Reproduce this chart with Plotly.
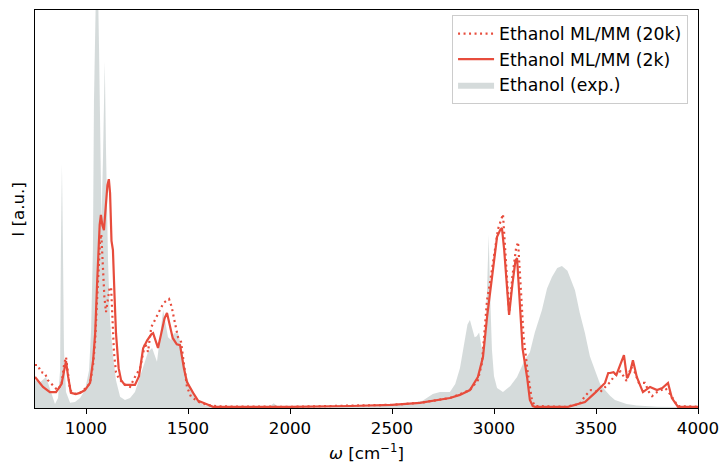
import plotly.graph_objects as go

# ---- data ----
exp_x = [750, 775, 804, 824, 848, 863, 873, 877, 882, 887, 892, 902, 922, 946, 971, 995,
         1015, 1025, 1034, 1039, 1044, 1054, 1064, 1069, 1076, 1083, 1092, 1098, 1108, 1118,
         1132, 1147, 1167, 1191, 1216, 1240, 1265, 1289, 1304, 1324, 1338, 1348, 1358, 1368,
         1378, 1387, 1402, 1417, 1431, 1451, 1466, 1480, 1495, 1520, 1544, 1574, 1608, 1700,
         1850, 1900, 1920, 1940, 2000, 2200, 2400, 2550, 2650, 2700, 2735, 2784, 2810, 2833,
         2858, 2870, 2882, 2895, 2905, 2915, 2927, 2940, 2950, 2960, 2968, 2974, 2980, 2990,
         3000, 3015, 3044, 3080, 3113, 3150, 3176, 3200, 3235, 3260, 3284, 3310, 3333, 3360,
         3397, 3420, 3446, 3470, 3495, 3520, 3544, 3570, 3593, 3650, 3700, 3800, 4000]
exp_y = [0.070, 0.065, 0.078, 0.045, 0.010, 0.025, 0.095, 0.40, 0.613, 0.40, 0.146, 0.040,
         0.013, 0.015, 0.025, 0.045, 0.095, 0.196, 0.40, 0.77, 1.05, 1.2, 0.90, 0.65, 0.47,
         0.62, 0.87, 0.65, 0.37, 0.22, 0.133, 0.070, 0.028, 0.020, 0.025, 0.040, 0.078, 0.116,
         0.141, 0.151, 0.133, 0.116, 0.158, 0.209, 0.246, 0.221, 0.178, 0.171, 0.188, 0.188,
         0.158, 0.116, 0.078, 0.038, 0.020, 0.008, 0.003, 0.002, 0.002, 0.004, 0.012, 0.004,
         0.002, 0.002, 0.004, 0.008, 0.018, 0.035, 0.040, 0.040, 0.060, 0.100, 0.171, 0.210,
         0.221, 0.200, 0.178, 0.180, 0.190, 0.150, 0.146, 0.200, 0.350, 0.435, 0.300, 0.146,
         0.080, 0.050, 0.040, 0.055, 0.078, 0.120, 0.140, 0.190, 0.246, 0.300, 0.329, 0.352,
         0.357, 0.345, 0.296, 0.240, 0.188, 0.130, 0.095, 0.060, 0.045, 0.030, 0.020, 0.010,
         0.006, 0.003, 0.002]

ml2k_x = [750, 789, 823, 853, 880, 895, 902, 912, 926, 950, 970, 995, 1020, 1035, 1045, 1055,
          1060, 1067, 1073, 1080, 1088, 1097, 1105, 1112, 1118, 1125, 1132, 1140, 1147, 1160,
          1172, 1190, 1216, 1240, 1260, 1280, 1300, 1320, 1329, 1340, 1353, 1370, 1385, 1397,
          1410, 1425, 1445, 1461, 1480, 1495, 1525, 1550, 1574, 1623, 1700, 2000, 2300, 2500,
          2637, 2700, 2784, 2833, 2882, 2921, 2946, 2966, 2990, 3015, 3030, 3039, 3050, 3060,
          3074, 3090, 3105, 3113, 3125, 3140, 3162, 3176, 3190, 3201, 3363, 3446, 3495, 3520,
          3544, 3560, 3569, 3586, 3600, 3620, 3637, 3652, 3667, 3681, 3700, 3718, 3730, 3765,
          3799, 3825, 3853, 3872, 3902, 4000]
ml2k_y = [0.078, 0.053, 0.040, 0.040, 0.060, 0.105, 0.118, 0.080, 0.038, 0.035, 0.038, 0.045,
          0.063, 0.120, 0.188, 0.320, 0.400, 0.460, 0.485, 0.460, 0.447, 0.500, 0.560, 0.575,
          0.540, 0.420, 0.397, 0.280, 0.188, 0.100, 0.070, 0.058, 0.058, 0.058, 0.080, 0.150,
          0.170, 0.185, 0.188, 0.170, 0.151, 0.190, 0.225, 0.239, 0.210, 0.176, 0.160, 0.158,
          0.100, 0.065, 0.038, 0.018, 0.013, 0.003, 0.003, 0.003, 0.005, 0.008, 0.013, 0.018,
          0.025, 0.033, 0.045, 0.078, 0.128, 0.229, 0.329, 0.430, 0.447, 0.452, 0.397, 0.320,
          0.234, 0.310, 0.370, 0.377, 0.270, 0.150, 0.078, 0.020, 0.005, 0.003, 0.003, 0.015,
          0.038, 0.050, 0.063, 0.088, 0.088, 0.090, 0.083, 0.110, 0.133, 0.075, 0.090, 0.120,
          0.078, 0.055, 0.040, 0.053, 0.045, 0.050, 0.063, 0.025, 0.003, 0.003]

ml20k_x = [750, 764, 779, 798, 813, 838, 860, 880, 893, 902, 912, 922, 940, 970, 1000, 1020,
           1035, 1045, 1055, 1062, 1069, 1075, 1080, 1085, 1090, 1098, 1105, 1115, 1123, 1130,
           1137, 1147, 1160, 1185, 1216, 1240, 1265, 1290, 1304, 1320, 1338, 1358, 1380, 1407,
           1420, 1433, 1451, 1466, 1476, 1485, 1495, 1515, 1554, 1593, 1650, 2000, 2300, 2500,
           2637, 2784, 2882, 2921, 2941, 2966, 2980, 3000, 3020, 3044, 3055, 3065, 3074, 3090,
           3108, 3118, 3130, 3145, 3165, 3186, 3200, 3350, 3420, 3446, 3475, 3520, 3569, 3600,
           3620, 3650, 3672, 3690, 3710, 3740, 3760, 3775, 3799, 3840, 3870, 3900, 4000]
ml20k_y = [0.108, 0.108, 0.090, 0.088, 0.070, 0.058, 0.045, 0.060, 0.110, 0.128, 0.080, 0.045,
           0.035, 0.038, 0.050, 0.063, 0.110, 0.170, 0.280, 0.370, 0.420, 0.437, 0.380, 0.330,
           0.280, 0.241, 0.270, 0.300, 0.304, 0.230, 0.140, 0.090, 0.075, 0.060, 0.053, 0.078,
           0.100, 0.163, 0.141, 0.203, 0.221, 0.239, 0.264, 0.274, 0.254, 0.221, 0.178, 0.166,
           0.128, 0.088, 0.053, 0.028, 0.015, 0.008, 0.004, 0.003, 0.005, 0.008, 0.013, 0.025,
           0.045, 0.070, 0.113, 0.271, 0.314, 0.380, 0.450, 0.487, 0.400, 0.300, 0.240, 0.330,
           0.400, 0.417, 0.310, 0.180, 0.090, 0.020, 0.005, 0.003, 0.010, 0.030, 0.045, 0.040,
           0.065, 0.088, 0.092, 0.068, 0.103, 0.090, 0.063, 0.063, 0.040, 0.030, 0.040, 0.050,
           0.030, 0.005, 0.003]

x_ticks = [1000, 1500, 2000, 2500, 3000, 3500, 4000]
names = ["Ethanol ML/MM (20k)", "Ethanol ML/MM (2k)", "Ethanol (exp.)"]

RED = "#e74c3c"
GRAY = "rgba(149,165,166,0.4)"
FONT = "DejaVu Sans"
FS = 16.7

fig = go.Figure()
fig.add_trace(go.Scatter(x=exp_x, y=exp_y, mode="lines", fill="tozeroy",
                         fillcolor=GRAY, line=dict(width=0, color=GRAY), name=names[2]))
fig.add_trace(go.Scatter(x=ml2k_x, y=ml2k_y, mode="lines",
                         line=dict(color=RED, width=2.2), name=names[1]))
fig.add_trace(go.Scatter(x=ml20k_x, y=ml20k_y, mode="lines",
                         line=dict(color=RED, width=2.2, dash="2px,3.5px"), name=names[0]))

fig.update_layout(
    width=720, height=463,
    margin=dict(l=35, r=22, t=10, b=55),
    paper_bgcolor="white", plot_bgcolor="white",
    font=dict(family=FONT, size=FS, color="black"),
    showlegend=True,
    legend=dict(x=0.985, y=0.9875, xanchor="right", yanchor="top",
                traceorder="reversed", bgcolor="rgba(255,255,255,0.8)",
                bordercolor="#cccccc", borderwidth=1, itemwidth=36,
                font=dict(family=FONT, size=17.3)),
    xaxis=dict(range=[750, 4000], tickvals=x_ticks, ticktext=[str(t) for t in x_ticks],
               showgrid=False, zeroline=False, showline=True, mirror=True,
               linecolor="black", linewidth=1.1, ticks="outside", ticklen=5,
               tickwidth=1.1, tickcolor="black", tickfont=dict(size=FS), automargin=False),
    yaxis=dict(range=[0, 1], showgrid=False, zeroline=False, showline=True, mirror=True,
               linecolor="black", linewidth=1.1, showticklabels=False, ticks="",
               automargin=False),
    annotations=[
        dict(text="<i>ω</i> [cm<sup>−1</sup>]", xref="paper", yref="paper",
             x=0.5, y=-0.078, xanchor="center", yanchor="top", showarrow=False,
             font=dict(size=FS)),
        dict(text="I [a.u.]", xref="paper", yref="paper", x=-0.026, y=0.5,
             xanchor="center", yanchor="middle", textangle=-90, showarrow=False,
             font=dict(size=FS)),
    ],
)

fig.write_html("out.html", config={"displayModeBar": False},
               post_script="document.body.style.margin='0px';document.body.style.overflow='hidden';")
